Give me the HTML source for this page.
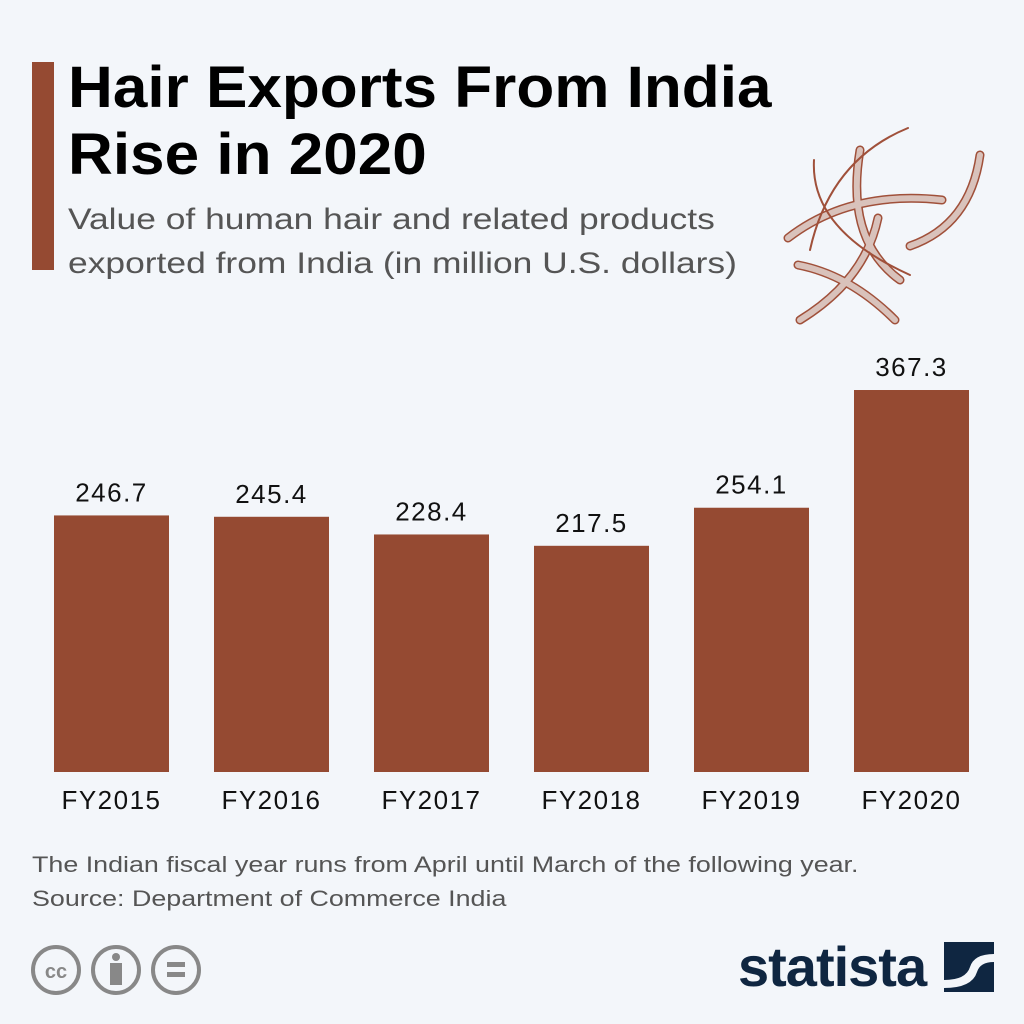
<!DOCTYPE html>
<html><head><meta charset="utf-8"><style>
body{margin:0;background:#f3f6fa;font-family:"Liberation Sans","DejaVu Sans",sans-serif;}
#root{position:relative;width:1024px;height:1024px;overflow:hidden;background:#f3f6fa;}
.t{position:absolute;white-space:nowrap;transform-origin:left top;}
</style></head><body>
<div id="root">
<div style="position:absolute;left:32px;top:62px;width:22px;height:208px;background:#954a32"></div>
<div class="t" style="left:68px;top:54px;font-size:58px;font-weight:bold;line-height:67px;color:#000;transform:scaleX(1.07)">Hair Exports From India<br>Rise in 2020</div>
<div class="t" style="left:68px;top:198px;font-size:30px;line-height:44px;color:#555;transform:scaleX(1.18)">Value of human hair and related products<br>exported from India (in million U.S. dollars)</div>
<svg style="position:absolute;left:770px;top:120px" width="230" height="210" viewBox="0 0 230 210">
<g fill="none" stroke-linecap="round">
<g stroke="#a0503a" stroke-width="9"><path d="M90 30 Q75 120 130 160"/><path d="M108 98 Q95 160 30 200"/><path d="M28 145 Q80 155 125 200"/><path d="M18 118 Q80 70 172 80"/><path d="M140 126 Q200 105 210 35"/></g>
<g stroke="#d9c2bb" stroke-width="6"><path d="M90 30 Q75 120 130 160"/><path d="M108 98 Q95 160 30 200"/><path d="M28 145 Q80 155 125 200"/><path d="M18 118 Q80 70 172 80"/><path d="M140 126 Q200 105 210 35"/></g>
<g stroke="#a0503a" stroke-width="2"><path d="M138 8 Q60 40 40 130"/><path d="M44 40 Q40 110 140 155"/></g>
</g></svg>
<svg id="chart" style="position:absolute;left:0;top:0" width="1024" height="1024"></svg>
<div class="t" style="left:32px;top:848px;font-size:22px;line-height:34px;color:#555;transform:scaleX(1.22)">The Indian fiscal year runs from April until March of the following year.<br>Source: Department of Commerce India</div>
<svg style="position:absolute;left:28px;top:942px" width="180" height="56">
<g fill="none" stroke="#888" stroke-width="4"><circle cx="28" cy="28" r="23"/><circle cx="88" cy="28" r="23"/><circle cx="148" cy="28" r="23"/></g>
<text x="28" y="36" text-anchor="middle" font-size="20" font-weight="bold" fill="#888" font-family="Liberation Sans">cc</text>
<circle cx="88" cy="15" r="4" fill="#888"/><rect x="82" y="21" width="12" height="22" fill="#888"/>
<rect x="139" y="20" width="18" height="5" fill="#888"/><rect x="139" y="30" width="18" height="5" fill="#888"/>
</svg>
<div class="t" style="left:738px;top:934px;font-size:56px;font-weight:bold;color:#0f2641;letter-spacing:-1px;transform:scaleX(1.0)">statista</div>
<svg style="position:absolute;left:944px;top:942px" width="50" height="50"><rect width="50" height="50" fill="#0f2641"/><path d="M0 38 Q22 38 26 25 Q30 12 50 12 L50 20 Q36 20 33 30 Q28 46 0 46Z" fill="#f3f6fa"/></svg>
</div>
<script>
const categories=["FY2015","FY2016","FY2017","FY2018","FY2019","FY2020"];
const values=[246.7,245.4,228.4,217.5,254.1,367.3];
const valueLabels=["246.7","245.4","228.4","217.5","254.1","367.3"];
const svg=document.getElementById('chart');
const NS='http://www.w3.org/2000/svg';
const baseY=772, scale=1.04, left=54, pitch=160, bw=115;
const x=i=>left+i*pitch;
const y=v=>baseY-v*scale;
categories.forEach((c,i)=>{
 const r=document.createElementNS(NS,'rect');
 r.setAttribute('x',x(i));r.setAttribute('y',y(values[i]));
 r.setAttribute('width',bw);r.setAttribute('height',baseY-y(values[i]));
 r.setAttribute('fill','#954a32');
 
 
 svg.appendChild(r);
 const t=document.createElementNS(NS,'text');
 t.setAttribute('x',x(i)+bw/2);t.setAttribute('y',y(values[i])-14);
 t.setAttribute('text-anchor','middle');t.setAttribute('font-size','26');
 t.setAttribute('letter-spacing','1.5');
 t.setAttribute('font-family','Liberation Sans, sans-serif');t.setAttribute('fill','#111');
 t.textContent=valueLabels[i];
 
 
 svg.appendChild(t);
 const l=document.createElementNS(NS,'text');
 l.setAttribute('x',x(i)+bw/2);l.setAttribute('y',baseY+37);
 l.setAttribute('text-anchor','middle');l.setAttribute('font-size','26');
 l.setAttribute('letter-spacing','1.5');
 l.setAttribute('font-family','Liberation Sans, sans-serif');l.setAttribute('fill','#111');
 l.textContent=c;
 
 
 svg.appendChild(l);
});
</script>
</body></html>
